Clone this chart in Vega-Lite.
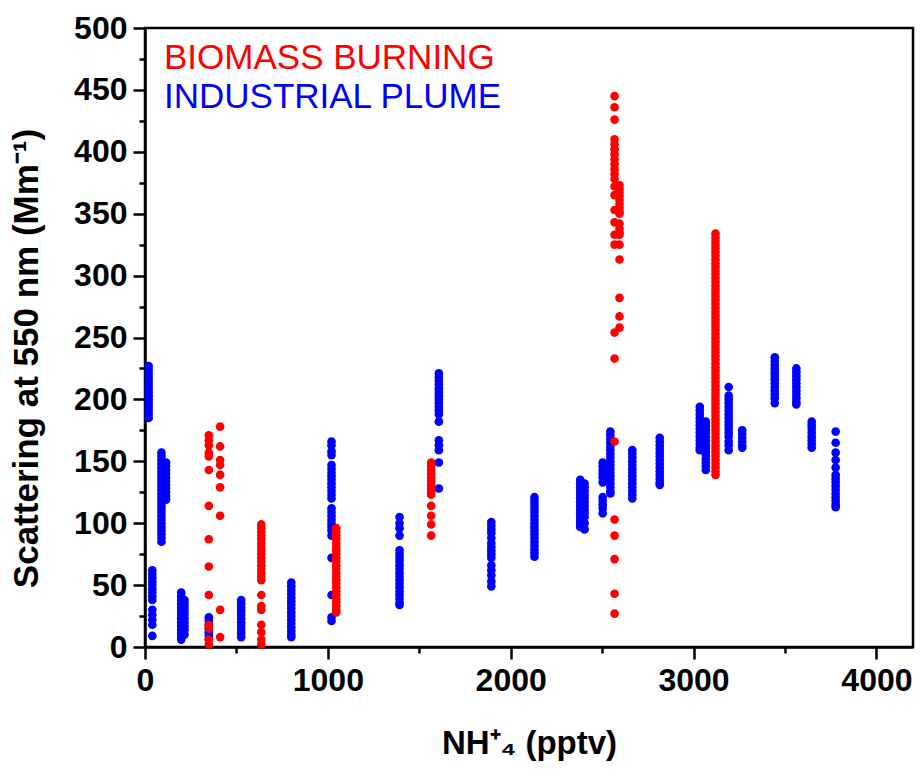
{
  "$schema": "https://vega.github.io/schema/vega-lite/v6.json",
  "width": 768,
  "height": 619,
  "autosize": "none",
  "padding": {"left": 145, "top": 28, "right": 8, "bottom": 131},
  "background": "white",
  "config": {
    "view": {"stroke": "black", "strokeWidth": 2.5},
    "font": "Liberation Sans"
  },
  "data": {
    "values": [
      {"src":"I","nh4":20,"scat":227},{"src":"I","nh4":20,"scat":224},{"src":"I","nh4":20,"scat":221},{"src":"I","nh4":20,"scat":218},{"src":"I","nh4":20,"scat":215},{"src":"I","nh4":20,"scat":212},{"src":"I","nh4":20,"scat":209},{"src":"I","nh4":20,"scat":206},{"src":"I","nh4":20,"scat":203},{"src":"I","nh4":20,"scat":200},{"src":"I","nh4":20,"scat":197},{"src":"I","nh4":20,"scat":194},{"src":"I","nh4":20,"scat":191},{"src":"I","nh4":20,"scat":188},{"src":"I","nh4":20,"scat":185},
      {"src":"I","nh4":40,"scat":62},{"src":"I","nh4":40,"scat":59},{"src":"I","nh4":40,"scat":56},{"src":"I","nh4":40,"scat":53},{"src":"I","nh4":40,"scat":50},{"src":"I","nh4":40,"scat":47},{"src":"I","nh4":40,"scat":44},{"src":"I","nh4":40,"scat":41},{"src":"I","nh4":40,"scat":38},{"src":"I","nh4":40,"scat":30},{"src":"I","nh4":40,"scat":26},{"src":"I","nh4":40,"scat":22},{"src":"I","nh4":40,"scat":18},{"src":"I","nh4":40,"scat":9},
      {"src":"I","nh4":90,"scat":157},{"src":"I","nh4":90,"scat":154},{"src":"I","nh4":90,"scat":151},{"src":"I","nh4":90,"scat":148},{"src":"I","nh4":90,"scat":145},{"src":"I","nh4":90,"scat":142},{"src":"I","nh4":90,"scat":139},{"src":"I","nh4":90,"scat":136},{"src":"I","nh4":90,"scat":133},{"src":"I","nh4":90,"scat":130},{"src":"I","nh4":90,"scat":127},{"src":"I","nh4":90,"scat":124},{"src":"I","nh4":90,"scat":121},{"src":"I","nh4":90,"scat":118},{"src":"I","nh4":90,"scat":115},{"src":"I","nh4":90,"scat":112},{"src":"I","nh4":90,"scat":109},{"src":"I","nh4":90,"scat":106},{"src":"I","nh4":90,"scat":103},{"src":"I","nh4":90,"scat":100},{"src":"I","nh4":90,"scat":97},{"src":"I","nh4":90,"scat":94},{"src":"I","nh4":90,"scat":91},{"src":"I","nh4":90,"scat":88},{"src":"I","nh4":90,"scat":85},
      {"src":"I","nh4":115,"scat":149},{"src":"I","nh4":115,"scat":146},{"src":"I","nh4":115,"scat":143},{"src":"I","nh4":115,"scat":140},{"src":"I","nh4":115,"scat":137},{"src":"I","nh4":115,"scat":134},{"src":"I","nh4":115,"scat":131},{"src":"I","nh4":115,"scat":128},{"src":"I","nh4":115,"scat":125},{"src":"I","nh4":115,"scat":122},{"src":"I","nh4":115,"scat":119},
      {"src":"I","nh4":198,"scat":44},{"src":"I","nh4":198,"scat":41},{"src":"I","nh4":198,"scat":38},{"src":"I","nh4":198,"scat":35},{"src":"I","nh4":198,"scat":32},{"src":"I","nh4":198,"scat":29},{"src":"I","nh4":198,"scat":26},{"src":"I","nh4":198,"scat":23},{"src":"I","nh4":198,"scat":20},{"src":"I","nh4":198,"scat":17},{"src":"I","nh4":198,"scat":14},{"src":"I","nh4":198,"scat":11},{"src":"I","nh4":198,"scat":8},{"src":"I","nh4":198,"scat":6},
      {"src":"I","nh4":216,"scat":38},{"src":"I","nh4":216,"scat":35},{"src":"I","nh4":216,"scat":32},{"src":"I","nh4":216,"scat":29},{"src":"I","nh4":216,"scat":26},{"src":"I","nh4":216,"scat":23},{"src":"I","nh4":216,"scat":20},{"src":"I","nh4":216,"scat":17},{"src":"I","nh4":216,"scat":14},{"src":"I","nh4":216,"scat":10},
      {"src":"I","nh4":349,"scat":24},{"src":"I","nh4":349,"scat":21},{"src":"I","nh4":349,"scat":18},{"src":"I","nh4":349,"scat":15},{"src":"I","nh4":349,"scat":12},{"src":"I","nh4":349,"scat":9},{"src":"I","nh4":349,"scat":6},
      {"src":"I","nh4":526,"scat":38},{"src":"I","nh4":526,"scat":35},{"src":"I","nh4":526,"scat":32},{"src":"I","nh4":526,"scat":29},{"src":"I","nh4":526,"scat":26},{"src":"I","nh4":526,"scat":23},{"src":"I","nh4":526,"scat":20},{"src":"I","nh4":526,"scat":17},{"src":"I","nh4":526,"scat":14},{"src":"I","nh4":526,"scat":11},{"src":"I","nh4":526,"scat":8},
      {"src":"I","nh4":800,"scat":52},{"src":"I","nh4":800,"scat":49},{"src":"I","nh4":800,"scat":46},{"src":"I","nh4":800,"scat":43},{"src":"I","nh4":800,"scat":40},{"src":"I","nh4":800,"scat":37},{"src":"I","nh4":800,"scat":34},{"src":"I","nh4":800,"scat":31},{"src":"I","nh4":800,"scat":28},{"src":"I","nh4":800,"scat":25},{"src":"I","nh4":800,"scat":22},{"src":"I","nh4":800,"scat":19},{"src":"I","nh4":800,"scat":16},{"src":"I","nh4":800,"scat":13},{"src":"I","nh4":800,"scat":10},{"src":"I","nh4":800,"scat":8},
      {"src":"I","nh4":1020,"scat":166},{"src":"I","nh4":1020,"scat":163},{"src":"I","nh4":1020,"scat":158},{"src":"I","nh4":1020,"scat":155},{"src":"I","nh4":1020,"scat":147},{"src":"I","nh4":1020,"scat":144},{"src":"I","nh4":1020,"scat":141},{"src":"I","nh4":1020,"scat":138},{"src":"I","nh4":1020,"scat":135},{"src":"I","nh4":1020,"scat":132},{"src":"I","nh4":1020,"scat":129},{"src":"I","nh4":1020,"scat":126},{"src":"I","nh4":1020,"scat":123},{"src":"I","nh4":1020,"scat":120},{"src":"I","nh4":1020,"scat":112},{"src":"I","nh4":1020,"scat":109},{"src":"I","nh4":1020,"scat":106},{"src":"I","nh4":1020,"scat":103},{"src":"I","nh4":1020,"scat":100},{"src":"I","nh4":1020,"scat":97},{"src":"I","nh4":1020,"scat":94},{"src":"I","nh4":1020,"scat":90},{"src":"I","nh4":1020,"scat":72},{"src":"I","nh4":1020,"scat":42},{"src":"I","nh4":1020,"scat":24},{"src":"I","nh4":1020,"scat":21},
      {"src":"I","nh4":1392,"scat":105},{"src":"I","nh4":1392,"scat":100},{"src":"I","nh4":1392,"scat":96},{"src":"I","nh4":1392,"scat":90},{"src":"I","nh4":1392,"scat":78},{"src":"I","nh4":1392,"scat":75},{"src":"I","nh4":1392,"scat":72},{"src":"I","nh4":1392,"scat":69},{"src":"I","nh4":1392,"scat":66},{"src":"I","nh4":1392,"scat":63},{"src":"I","nh4":1392,"scat":60},{"src":"I","nh4":1392,"scat":57},{"src":"I","nh4":1392,"scat":54},{"src":"I","nh4":1392,"scat":51},{"src":"I","nh4":1392,"scat":48},{"src":"I","nh4":1392,"scat":45},{"src":"I","nh4":1392,"scat":42},{"src":"I","nh4":1392,"scat":39},{"src":"I","nh4":1392,"scat":36},{"src":"I","nh4":1392,"scat":34},
      {"src":"I","nh4":1607,"scat":221},{"src":"I","nh4":1607,"scat":218},{"src":"I","nh4":1607,"scat":215},{"src":"I","nh4":1607,"scat":212},{"src":"I","nh4":1607,"scat":209},{"src":"I","nh4":1607,"scat":206},{"src":"I","nh4":1607,"scat":203},{"src":"I","nh4":1607,"scat":200},{"src":"I","nh4":1607,"scat":197},{"src":"I","nh4":1607,"scat":194},{"src":"I","nh4":1607,"scat":191},{"src":"I","nh4":1607,"scat":188},{"src":"I","nh4":1607,"scat":182},{"src":"I","nh4":1607,"scat":167},{"src":"I","nh4":1607,"scat":163},{"src":"I","nh4":1607,"scat":159},{"src":"I","nh4":1607,"scat":149},{"src":"I","nh4":1607,"scat":128},
      {"src":"I","nh4":1894,"scat":101},{"src":"I","nh4":1894,"scat":98},{"src":"I","nh4":1894,"scat":95},{"src":"I","nh4":1894,"scat":92},{"src":"I","nh4":1894,"scat":88},{"src":"I","nh4":1894,"scat":84},{"src":"I","nh4":1894,"scat":81},{"src":"I","nh4":1894,"scat":78},{"src":"I","nh4":1894,"scat":75},{"src":"I","nh4":1894,"scat":72},{"src":"I","nh4":1894,"scat":66},{"src":"I","nh4":1894,"scat":62},{"src":"I","nh4":1894,"scat":58},{"src":"I","nh4":1894,"scat":53},{"src":"I","nh4":1894,"scat":49},
      {"src":"I","nh4":2130,"scat":121},{"src":"I","nh4":2130,"scat":118},{"src":"I","nh4":2130,"scat":115},{"src":"I","nh4":2130,"scat":112},{"src":"I","nh4":2130,"scat":109},{"src":"I","nh4":2130,"scat":106},{"src":"I","nh4":2130,"scat":103},{"src":"I","nh4":2130,"scat":100},{"src":"I","nh4":2130,"scat":97},{"src":"I","nh4":2130,"scat":94},{"src":"I","nh4":2130,"scat":91},{"src":"I","nh4":2130,"scat":88},{"src":"I","nh4":2130,"scat":85},{"src":"I","nh4":2130,"scat":82},{"src":"I","nh4":2130,"scat":79},{"src":"I","nh4":2130,"scat":76},{"src":"I","nh4":2130,"scat":73},
      {"src":"I","nh4":2380,"scat":135},{"src":"I","nh4":2380,"scat":132},{"src":"I","nh4":2380,"scat":129},{"src":"I","nh4":2380,"scat":126},{"src":"I","nh4":2380,"scat":123},{"src":"I","nh4":2380,"scat":120},{"src":"I","nh4":2380,"scat":117},{"src":"I","nh4":2380,"scat":114},{"src":"I","nh4":2380,"scat":111},{"src":"I","nh4":2380,"scat":108},{"src":"I","nh4":2380,"scat":105},{"src":"I","nh4":2380,"scat":102},{"src":"I","nh4":2380,"scat":99},{"src":"I","nh4":2380,"scat":97},
      {"src":"I","nh4":2404,"scat":132},{"src":"I","nh4":2404,"scat":129},{"src":"I","nh4":2404,"scat":126},{"src":"I","nh4":2404,"scat":123},{"src":"I","nh4":2404,"scat":120},{"src":"I","nh4":2404,"scat":117},{"src":"I","nh4":2404,"scat":114},{"src":"I","nh4":2404,"scat":111},{"src":"I","nh4":2404,"scat":108},{"src":"I","nh4":2404,"scat":105},{"src":"I","nh4":2404,"scat":100},{"src":"I","nh4":2404,"scat":95},
      {"src":"I","nh4":2503,"scat":149},{"src":"I","nh4":2503,"scat":146},{"src":"I","nh4":2503,"scat":143},{"src":"I","nh4":2503,"scat":140},{"src":"I","nh4":2503,"scat":137},{"src":"I","nh4":2503,"scat":133},{"src":"I","nh4":2503,"scat":121},{"src":"I","nh4":2503,"scat":118},{"src":"I","nh4":2503,"scat":115},{"src":"I","nh4":2503,"scat":112},{"src":"I","nh4":2503,"scat":108},
      {"src":"I","nh4":2545,"scat":174},{"src":"I","nh4":2545,"scat":171},{"src":"I","nh4":2545,"scat":168},{"src":"I","nh4":2545,"scat":165},{"src":"I","nh4":2545,"scat":162},{"src":"I","nh4":2545,"scat":159},{"src":"I","nh4":2545,"scat":156},{"src":"I","nh4":2545,"scat":153},{"src":"I","nh4":2545,"scat":150},{"src":"I","nh4":2545,"scat":147},{"src":"I","nh4":2545,"scat":144},{"src":"I","nh4":2545,"scat":141},{"src":"I","nh4":2545,"scat":138},{"src":"I","nh4":2545,"scat":135},{"src":"I","nh4":2545,"scat":132},{"src":"I","nh4":2545,"scat":129},{"src":"I","nh4":2545,"scat":126},{"src":"I","nh4":2545,"scat":124},
      {"src":"I","nh4":2665,"scat":159},{"src":"I","nh4":2665,"scat":156},{"src":"I","nh4":2665,"scat":153},{"src":"I","nh4":2665,"scat":150},{"src":"I","nh4":2665,"scat":147},{"src":"I","nh4":2665,"scat":144},{"src":"I","nh4":2665,"scat":141},{"src":"I","nh4":2665,"scat":138},{"src":"I","nh4":2665,"scat":135},{"src":"I","nh4":2665,"scat":132},{"src":"I","nh4":2665,"scat":129},{"src":"I","nh4":2665,"scat":126},{"src":"I","nh4":2665,"scat":123},{"src":"I","nh4":2665,"scat":120},
      {"src":"I","nh4":2815,"scat":169},{"src":"I","nh4":2815,"scat":166},{"src":"I","nh4":2815,"scat":163},{"src":"I","nh4":2815,"scat":160},{"src":"I","nh4":2815,"scat":157},{"src":"I","nh4":2815,"scat":154},{"src":"I","nh4":2815,"scat":151},{"src":"I","nh4":2815,"scat":148},{"src":"I","nh4":2815,"scat":145},{"src":"I","nh4":2815,"scat":142},{"src":"I","nh4":2815,"scat":139},{"src":"I","nh4":2815,"scat":136},{"src":"I","nh4":2815,"scat":133},{"src":"I","nh4":2815,"scat":131},
      {"src":"I","nh4":3034,"scat":194},{"src":"I","nh4":3034,"scat":191},{"src":"I","nh4":3034,"scat":188},{"src":"I","nh4":3034,"scat":185},{"src":"I","nh4":3034,"scat":182},{"src":"I","nh4":3034,"scat":179},{"src":"I","nh4":3034,"scat":176},{"src":"I","nh4":3034,"scat":173},{"src":"I","nh4":3034,"scat":170},{"src":"I","nh4":3034,"scat":167},{"src":"I","nh4":3034,"scat":164},{"src":"I","nh4":3034,"scat":161},{"src":"I","nh4":3034,"scat":159},
      {"src":"I","nh4":3067,"scat":182},{"src":"I","nh4":3067,"scat":179},{"src":"I","nh4":3067,"scat":176},{"src":"I","nh4":3067,"scat":173},{"src":"I","nh4":3067,"scat":170},{"src":"I","nh4":3067,"scat":167},{"src":"I","nh4":3067,"scat":164},{"src":"I","nh4":3067,"scat":161},{"src":"I","nh4":3067,"scat":158},{"src":"I","nh4":3067,"scat":155},{"src":"I","nh4":3067,"scat":152},{"src":"I","nh4":3067,"scat":149},{"src":"I","nh4":3067,"scat":146},{"src":"I","nh4":3067,"scat":143},
      {"src":"I","nh4":3192,"scat":210},{"src":"I","nh4":3192,"scat":203},{"src":"I","nh4":3192,"scat":200},{"src":"I","nh4":3192,"scat":197},{"src":"I","nh4":3192,"scat":194},{"src":"I","nh4":3192,"scat":191},{"src":"I","nh4":3192,"scat":188},{"src":"I","nh4":3192,"scat":185},{"src":"I","nh4":3192,"scat":182},{"src":"I","nh4":3192,"scat":179},{"src":"I","nh4":3192,"scat":176},{"src":"I","nh4":3192,"scat":173},{"src":"I","nh4":3192,"scat":170},{"src":"I","nh4":3192,"scat":166},{"src":"I","nh4":3192,"scat":163},{"src":"I","nh4":3192,"scat":159},
      {"src":"I","nh4":3266,"scat":175},{"src":"I","nh4":3266,"scat":172},{"src":"I","nh4":3266,"scat":169},{"src":"I","nh4":3266,"scat":166},{"src":"I","nh4":3266,"scat":163},{"src":"I","nh4":3266,"scat":161},
      {"src":"I","nh4":3444,"scat":234},{"src":"I","nh4":3444,"scat":231},{"src":"I","nh4":3444,"scat":228},{"src":"I","nh4":3444,"scat":225},{"src":"I","nh4":3444,"scat":222},{"src":"I","nh4":3444,"scat":219},{"src":"I","nh4":3444,"scat":216},{"src":"I","nh4":3444,"scat":213},{"src":"I","nh4":3444,"scat":210},{"src":"I","nh4":3444,"scat":207},{"src":"I","nh4":3444,"scat":204},{"src":"I","nh4":3444,"scat":201},{"src":"I","nh4":3444,"scat":197},
      {"src":"I","nh4":3562,"scat":225},{"src":"I","nh4":3562,"scat":222},{"src":"I","nh4":3562,"scat":219},{"src":"I","nh4":3562,"scat":216},{"src":"I","nh4":3562,"scat":213},{"src":"I","nh4":3562,"scat":210},{"src":"I","nh4":3562,"scat":207},{"src":"I","nh4":3562,"scat":204},{"src":"I","nh4":3562,"scat":201},{"src":"I","nh4":3562,"scat":198},{"src":"I","nh4":3562,"scat":196},
      {"src":"I","nh4":3646,"scat":182},{"src":"I","nh4":3646,"scat":179},{"src":"I","nh4":3646,"scat":176},{"src":"I","nh4":3646,"scat":173},{"src":"I","nh4":3646,"scat":170},{"src":"I","nh4":3646,"scat":167},{"src":"I","nh4":3646,"scat":164},{"src":"I","nh4":3646,"scat":161},
      {"src":"I","nh4":3777,"scat":174},{"src":"I","nh4":3777,"scat":165},{"src":"I","nh4":3777,"scat":157},{"src":"I","nh4":3777,"scat":151},{"src":"I","nh4":3777,"scat":145},{"src":"I","nh4":3777,"scat":139},{"src":"I","nh4":3777,"scat":136},{"src":"I","nh4":3777,"scat":133},{"src":"I","nh4":3777,"scat":130},{"src":"I","nh4":3777,"scat":127},{"src":"I","nh4":3777,"scat":124},{"src":"I","nh4":3777,"scat":121},{"src":"I","nh4":3777,"scat":118},{"src":"I","nh4":3777,"scat":115},{"src":"I","nh4":3777,"scat":113},

      {"src":"B","nh4":349,"scat":171},{"src":"B","nh4":349,"scat":167},{"src":"B","nh4":349,"scat":163},{"src":"B","nh4":349,"scat":157},{"src":"B","nh4":349,"scat":154},{"src":"B","nh4":349,"scat":143},{"src":"B","nh4":349,"scat":114},{"src":"B","nh4":349,"scat":87},{"src":"B","nh4":349,"scat":65},{"src":"B","nh4":349,"scat":42},{"src":"B","nh4":349,"scat":18},{"src":"B","nh4":349,"scat":15},{"src":"B","nh4":349,"scat":6},{"src":"B","nh4":349,"scat":2},
      {"src":"B","nh4":411,"scat":178},{"src":"B","nh4":411,"scat":162},{"src":"B","nh4":411,"scat":151},{"src":"B","nh4":411,"scat":147},{"src":"B","nh4":411,"scat":139},{"src":"B","nh4":411,"scat":129},{"src":"B","nh4":411,"scat":106},{"src":"B","nh4":411,"scat":30},{"src":"B","nh4":411,"scat":8},
      {"src":"B","nh4":636,"scat":99},{"src":"B","nh4":636,"scat":96},{"src":"B","nh4":636,"scat":93},{"src":"B","nh4":636,"scat":90},{"src":"B","nh4":636,"scat":87},{"src":"B","nh4":636,"scat":84},{"src":"B","nh4":636,"scat":81},{"src":"B","nh4":636,"scat":78},{"src":"B","nh4":636,"scat":75},{"src":"B","nh4":636,"scat":72},{"src":"B","nh4":636,"scat":69},{"src":"B","nh4":636,"scat":66},{"src":"B","nh4":636,"scat":63},{"src":"B","nh4":636,"scat":60},{"src":"B","nh4":636,"scat":57},{"src":"B","nh4":636,"scat":54},{"src":"B","nh4":636,"scat":42},{"src":"B","nh4":636,"scat":33},{"src":"B","nh4":636,"scat":30},{"src":"B","nh4":636,"scat":18},{"src":"B","nh4":636,"scat":12},{"src":"B","nh4":636,"scat":6},{"src":"B","nh4":636,"scat":2},
      {"src":"B","nh4":1046,"scat":96},{"src":"B","nh4":1046,"scat":93},{"src":"B","nh4":1046,"scat":90},{"src":"B","nh4":1046,"scat":87},{"src":"B","nh4":1046,"scat":84},{"src":"B","nh4":1046,"scat":81},{"src":"B","nh4":1046,"scat":78},{"src":"B","nh4":1046,"scat":75},{"src":"B","nh4":1046,"scat":72},{"src":"B","nh4":1046,"scat":69},{"src":"B","nh4":1046,"scat":66},{"src":"B","nh4":1046,"scat":63},{"src":"B","nh4":1046,"scat":60},{"src":"B","nh4":1046,"scat":57},{"src":"B","nh4":1046,"scat":54},{"src":"B","nh4":1046,"scat":51},{"src":"B","nh4":1046,"scat":48},{"src":"B","nh4":1046,"scat":45},{"src":"B","nh4":1046,"scat":42},{"src":"B","nh4":1046,"scat":39},{"src":"B","nh4":1046,"scat":36},{"src":"B","nh4":1046,"scat":33},{"src":"B","nh4":1046,"scat":30},{"src":"B","nh4":1046,"scat":28},
      {"src":"B","nh4":1565,"scat":149},{"src":"B","nh4":1565,"scat":146},{"src":"B","nh4":1565,"scat":143},{"src":"B","nh4":1565,"scat":140},{"src":"B","nh4":1565,"scat":137},{"src":"B","nh4":1565,"scat":134},{"src":"B","nh4":1565,"scat":131},{"src":"B","nh4":1565,"scat":128},{"src":"B","nh4":1565,"scat":125},{"src":"B","nh4":1565,"scat":123},{"src":"B","nh4":1565,"scat":114},{"src":"B","nh4":1565,"scat":106},{"src":"B","nh4":1565,"scat":99},{"src":"B","nh4":1565,"scat":90},
      {"src":"B","nh4":2568,"scat":445},{"src":"B","nh4":2568,"scat":436},{"src":"B","nh4":2568,"scat":426},{"src":"B","nh4":2568,"scat":410},{"src":"B","nh4":2568,"scat":406},{"src":"B","nh4":2568,"scat":402},{"src":"B","nh4":2568,"scat":398},{"src":"B","nh4":2568,"scat":394},{"src":"B","nh4":2568,"scat":390},{"src":"B","nh4":2568,"scat":386},{"src":"B","nh4":2568,"scat":382},{"src":"B","nh4":2568,"scat":378},{"src":"B","nh4":2568,"scat":372},{"src":"B","nh4":2568,"scat":365},{"src":"B","nh4":2568,"scat":353},{"src":"B","nh4":2568,"scat":343},{"src":"B","nh4":2568,"scat":333},{"src":"B","nh4":2568,"scat":325},{"src":"B","nh4":2568,"scat":254},{"src":"B","nh4":2568,"scat":233},{"src":"B","nh4":2568,"scat":166},{"src":"B","nh4":2568,"scat":103},{"src":"B","nh4":2568,"scat":90},{"src":"B","nh4":2568,"scat":71},{"src":"B","nh4":2568,"scat":43},{"src":"B","nh4":2568,"scat":27},
      {"src":"B","nh4":2595,"scat":373},{"src":"B","nh4":2595,"scat":370},{"src":"B","nh4":2595,"scat":367},{"src":"B","nh4":2595,"scat":364},{"src":"B","nh4":2595,"scat":361},{"src":"B","nh4":2595,"scat":358},{"src":"B","nh4":2595,"scat":355},{"src":"B","nh4":2595,"scat":352},{"src":"B","nh4":2595,"scat":350},{"src":"B","nh4":2595,"scat":342},{"src":"B","nh4":2595,"scat":338},{"src":"B","nh4":2595,"scat":335},{"src":"B","nh4":2595,"scat":333},{"src":"B","nh4":2595,"scat":325},{"src":"B","nh4":2595,"scat":313},{"src":"B","nh4":2595,"scat":282},{"src":"B","nh4":2595,"scat":267},{"src":"B","nh4":2595,"scat":258},
      {"src":"B","nh4":3120,"scat":334},{"src":"B","nh4":3120,"scat":331},{"src":"B","nh4":3120,"scat":328},{"src":"B","nh4":3120,"scat":325},{"src":"B","nh4":3120,"scat":322},{"src":"B","nh4":3120,"scat":319},{"src":"B","nh4":3120,"scat":316},{"src":"B","nh4":3120,"scat":313},{"src":"B","nh4":3120,"scat":310},{"src":"B","nh4":3120,"scat":307},{"src":"B","nh4":3120,"scat":304},{"src":"B","nh4":3120,"scat":301},{"src":"B","nh4":3120,"scat":298},{"src":"B","nh4":3120,"scat":295},{"src":"B","nh4":3120,"scat":292},{"src":"B","nh4":3120,"scat":289},{"src":"B","nh4":3120,"scat":286},{"src":"B","nh4":3120,"scat":283},{"src":"B","nh4":3120,"scat":280},{"src":"B","nh4":3120,"scat":277},{"src":"B","nh4":3120,"scat":274},{"src":"B","nh4":3120,"scat":271},{"src":"B","nh4":3120,"scat":268},{"src":"B","nh4":3120,"scat":265},{"src":"B","nh4":3120,"scat":262},{"src":"B","nh4":3120,"scat":259},{"src":"B","nh4":3120,"scat":256},{"src":"B","nh4":3120,"scat":253},{"src":"B","nh4":3120,"scat":250},{"src":"B","nh4":3120,"scat":247},{"src":"B","nh4":3120,"scat":244},{"src":"B","nh4":3120,"scat":241},{"src":"B","nh4":3120,"scat":238},{"src":"B","nh4":3120,"scat":235},{"src":"B","nh4":3120,"scat":232},{"src":"B","nh4":3120,"scat":229},{"src":"B","nh4":3120,"scat":226},{"src":"B","nh4":3120,"scat":223},{"src":"B","nh4":3120,"scat":220},{"src":"B","nh4":3120,"scat":217},{"src":"B","nh4":3120,"scat":214},{"src":"B","nh4":3120,"scat":211},{"src":"B","nh4":3120,"scat":208},{"src":"B","nh4":3120,"scat":205},{"src":"B","nh4":3120,"scat":202},{"src":"B","nh4":3120,"scat":199},{"src":"B","nh4":3120,"scat":196},{"src":"B","nh4":3120,"scat":193},{"src":"B","nh4":3120,"scat":190},{"src":"B","nh4":3120,"scat":187},{"src":"B","nh4":3120,"scat":184},{"src":"B","nh4":3120,"scat":181},{"src":"B","nh4":3120,"scat":178},{"src":"B","nh4":3120,"scat":175},{"src":"B","nh4":3120,"scat":172},{"src":"B","nh4":3120,"scat":169},{"src":"B","nh4":3120,"scat":166},{"src":"B","nh4":3120,"scat":163},{"src":"B","nh4":3120,"scat":160},{"src":"B","nh4":3120,"scat":157},{"src":"B","nh4":3120,"scat":154},{"src":"B","nh4":3120,"scat":151},{"src":"B","nh4":3120,"scat":148},{"src":"B","nh4":3120,"scat":145},{"src":"B","nh4":3120,"scat":142},{"src":"B","nh4":3120,"scat":139}
    ]
  },
  "mark": {"type": "point", "filled": true, "size": 75, "opacity": 1, "strokeWidth": 0},
  "encoding": {
    "x": {
      "field": "nh4",
      "type": "quantitative",
      "scale": {"domain": [0, 4200], "nice": false, "zero": false},
      "axis": {
        "values": [0, 500, 1000, 1500, 2000, 2500, 3000, 3500, 4000],
        "labelExpr": "datum.value % 1000 === 0 ? format(datum.value, 'd') : ''",
        "title": "NH⁺₄ (pptv)",
        "titleFont": "Liberation Sans",
        "titleFontSize": 33,
        "titleFontWeight": "bold",
        "titleColor": "black",
        "titlePadding": 31,
        "labelFont": "Liberation Sans",
        "labelFontSize": 32,
        "labelFontWeight": "bold",
        "labelColor": "black",
        "labelPadding": 6,
        "labelFlush": false,
        "labelOverlap": false,
        "grid": false,
        "domainColor": "black",
        "domainWidth": 2.5,
        "tickColor": "black",
        "tickWidth": 2.5,
        "tickSize": {"condition": {"test": "datum.value % 1000 === 0", "value": 12}, "value": 6}
      }
    },
    "y": {
      "field": "scat",
      "type": "quantitative",
      "scale": {"domain": [0, 500], "nice": false},
      "axis": {
        "values": [0, 25, 50, 75, 100, 125, 150, 175, 200, 225, 250, 275, 300, 325, 350, 375, 400, 425, 450, 475, 500],
        "labelExpr": "datum.value % 50 === 0 ? format(datum.value, 'd') : ''",
        "title": "Scattering at 550 nm (Mm⁻¹)",
        "titleFont": "Liberation Sans",
        "titleFontSize": 35,
        "titleFontWeight": "bold",
        "titleColor": "black",
        "titlePadding": 29,
        "titleY": 330,
        "labelFont": "Liberation Sans",
        "labelFontSize": 32,
        "labelFontWeight": "bold",
        "labelColor": "black",
        "labelPadding": 6,
        "labelFlush": false,
        "labelOverlap": false,
        "grid": false,
        "domainColor": "black",
        "domainWidth": 2.5,
        "tickColor": "black",
        "tickWidth": 2.5,
        "tickSize": {"condition": {"test": "datum.value % 50 === 0", "value": 12}, "value": 6}
      }
    },
    "color": {
      "field": "src",
      "type": "nominal",
      "scale": {"domain": ["B", "I"], "range": ["#ff0000", "#0000ff"]},
      "legend": {
        "orient": "top-left",
        "offset": 12,
        "padding": 0,
        "title": null,
        "labelExpr": "datum.value === 'B' ? 'BIOMASS BURNING' : 'INDUSTRIAL PLUME'",
        "labelFont": "Liberation Sans",
        "labelFontSize": 35,
        "labelLimit": 600,
        "labelOffset": -28,
        "rowPadding": 3,
        "symbolSize": 0,
        "symbolOpacity": 0,
        "symbolStrokeWidth": 0,
        "encode": {
          "labels": {"update": {"fill": {"scale": "color", "field": "value"}}}
        }
      }
    }
  }
}
